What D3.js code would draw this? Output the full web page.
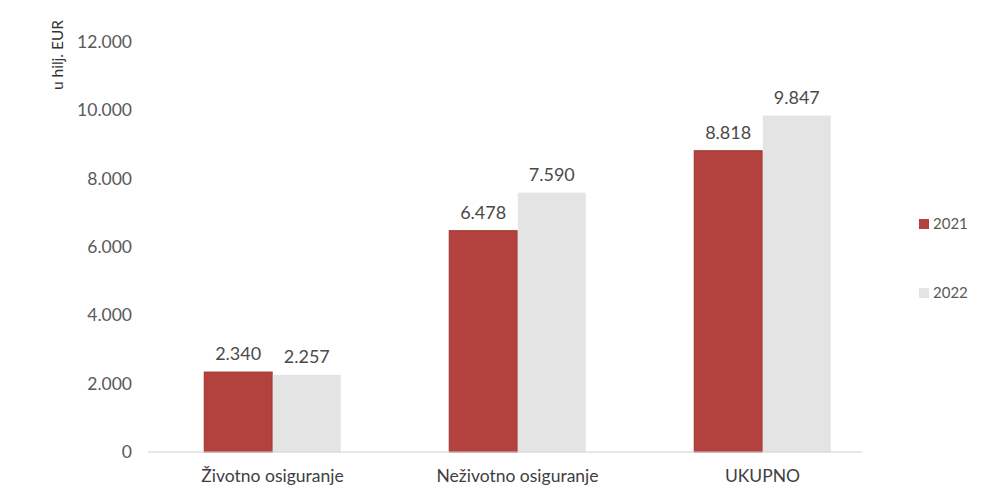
<!DOCTYPE html>
<html><head><meta charset="utf-8">
<script src="https://cdn.jsdelivr.net/npm/d3@7"></script>
<style>body{margin:0;background:#fff}svg{display:block}</style>
</head><body>
<script>
const categories = ["Životno osiguranje", "Neživotno osiguranje", "UKUPNO"];
const series = ["2021", "2022"];
const values2021 = [2340, 6478, 8818];
const values2022 = [2257, 7590, 9847];
const yTicks = [0, 2000, 4000, 6000, 8000, 10000, 12000];
const yTitle = "u hilj. EUR";
const colors = {"2021": "#b3423e", "2022": "#e4e4e4"};

const W = 989, H = 499;
const fmt = v => v === 0 ? "0" : d3.format(",")(v).replace(/,/g, ".");
const svg = d3.select("body").append("svg").attr("width", W).attr("height", H);
const font = "Lato, 'Open Sans', sans-serif";

const y = d3.scaleLinear().domain([0, 12000]).range([452, 42]);
const x0 = d3.scaleBand().domain(categories).range([150, 885]).paddingInner(0.437).paddingOuter(0.2185);
const x1 = d3.scaleBand().domain(series).range([0, x0.bandwidth()]).padding(0.01);

// y tick labels
svg.append("g").selectAll("text").data(yTicks).join("text")
  .attr("x", 132).attr("y", d => y(d)).attr("dy", "0.35em")
  .attr("text-anchor", "end").attr("font-family", font).attr("font-size", 17.5)
  .attr("fill", "#595959").text(fmt);

// axis title
svg.append("text").attr("transform", "translate(63,55) rotate(-90)")
  .attr("text-anchor", "middle").attr("font-family", font).attr("font-size", 15.5)
  .attr("fill", "#333").text(yTitle);

const data = categories.map((c, i) => ({cat: c, vals: [{s: "2021", v: values2021[i]}, {s: "2022", v: values2022[i]}]}));

const g = svg.append("g").selectAll("g").data(data).join("g")
  .attr("transform", d => `translate(${x0(d.cat)},0)`);
g.selectAll("rect").data(d => d.vals).join("rect")
  .attr("x", d => x1(d.s)).attr("width", x1.bandwidth())
  .attr("y", d => y(d.v)).attr("height", d => y(0) - y(d.v))
  .attr("fill", d => colors[d.s])
  .attr("stroke", d => d.s === "2021" ? "#9e3532" : "none").attr("stroke-width", 1);
g.selectAll("text").data(d => d.vals).join("text")
  .attr("x", d => x1(d.s) + x1.bandwidth() / 2).attr("y", d => y(d.v) - 12)
  .attr("text-anchor", "middle").attr("font-family", font).attr("font-size", 18)
  .attr("fill", "#4a4a4a").text(d => fmt(d.v));

// baseline
svg.append("line").attr("x1", 148).attr("x2", 862).attr("y1", y(0)).attr("y2", y(0))
  .attr("stroke", "#d0d0d0").attr("stroke-width", 1);

// category labels
svg.append("g").selectAll("text").data(categories).join("text")
  .attr("x", d => x0(d) + x0.bandwidth() / 2).attr("y", 482)
  .attr("text-anchor", "middle").attr("font-family", font).attr("font-size", 17.5)
  .attr("fill", "#404040").text(d => d);

// legend
const leg = svg.append("g").selectAll("g").data(series).join("g")
  .attr("transform", (d, i) => `translate(919,${224 + i * 69})`);
leg.append("rect").attr("x", 0).attr("y", -5).attr("width", 10).attr("height", 10)
  .attr("fill", d => colors[d]);
leg.append("text").attr("x", 14).attr("y", 0).attr("dy", "0.35em")
  .attr("font-family", font).attr("font-size", 15).attr("fill", "#595959").text(d => d);
</script>
</body></html>
